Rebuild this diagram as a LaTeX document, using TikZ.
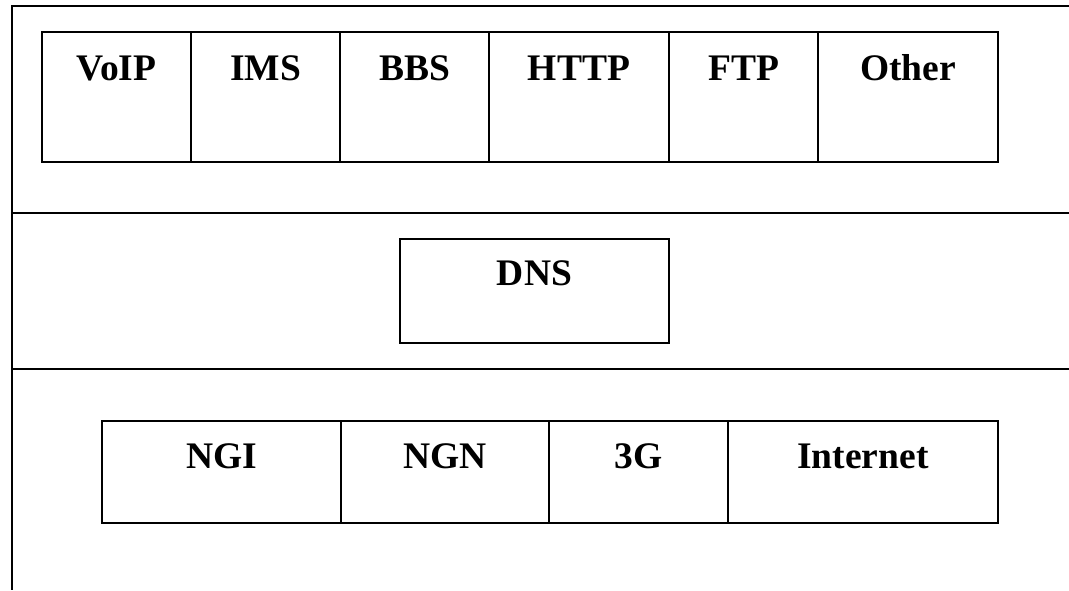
\documentclass[tikz,border=0pt]{standalone}
\usepackage{fontspec}
\setmainfont{Liberation Serif}
\begin{document}
\begin{tikzpicture}[x=1pt,y=-1pt,
  cell/.style={draw=black,line width=1.8pt,inner sep=0pt,outer sep=0pt},
  lbl/.style={anchor=base,inner sep=0pt,font=\fontsize{37.5}{40}\selectfont\bfseries},
  frame/.style={draw=black,line width=2pt},
  divider/.style={draw=black,line width=2.5pt}]
\useasboundingbox (0,0) rectangle (1069,590);
% outer frame
\coordinate (tl) at (12,6);
\coordinate (tr) at (1069,6);
\coordinate (bl) at (12,590);
\draw[frame] (tr) -- (tl) -- (bl);
\coordinate (d1l) at (12,213);
\coordinate (d1r) at (1069,213);
\coordinate (d2l) at (12,369);
\coordinate (d2r) at (1069,369);
\draw[divider] (d1l) -- (d1r);
\draw[divider] (d2l) -- (d2r);
% top row
\node[cell,minimum width=149pt,minimum height=130pt] (voip) at (116.5,97) {};
\node[cell,minimum width=149pt,minimum height=130pt] (ims) at (265.5,97) {};
\node[cell,minimum width=149pt,minimum height=130pt] (bbs) at (414.5,97) {};
\node[cell,minimum width=180pt,minimum height=130pt] (http) at (579,97) {};
\node[cell,minimum width=149pt,minimum height=130pt] (ftp) at (743.5,97) {};
\node[cell,minimum width=180pt,minimum height=130pt] (other) at (908,97) {};
\node[lbl] (tvoip) at (116.5,80) {VoIP};
\node[lbl] (tims) at (265.5,80) {IMS};
\node[lbl] (tbbs) at (414.5,80) {BBS};
\node[lbl] (thttp) at (579,80) {HTTP};
\node[lbl] (tftp) at (743.5,80) {FTP};
\node[lbl] (tother) at (908,80) {Other};
% middle
\node[cell,minimum width=269pt,minimum height=104pt] (dns) at (534.5,291) {};
\node[lbl] (tdns) at (534.5,285) {DNS};
% bottom row
\node[cell,minimum width=239pt,minimum height=102pt] (ngi) at (221.5,472) {};
\node[cell,minimum width=208pt,minimum height=102pt] (ngn) at (445,472) {};
\node[cell,minimum width=179pt,minimum height=102pt] (g3) at (638.5,472) {};
\node[cell,minimum width=270pt,minimum height=102pt] (inet) at (863,472) {};
\node[lbl] (tngi) at (221.5,468) {NGI};
\node[lbl] (tngn) at (445,468) {NGN};
\node[lbl] (tg3) at (638.5,468) {3G};
\node[lbl] (tinet) at (863,468) {Internet};
\end{tikzpicture}
\end{document}
